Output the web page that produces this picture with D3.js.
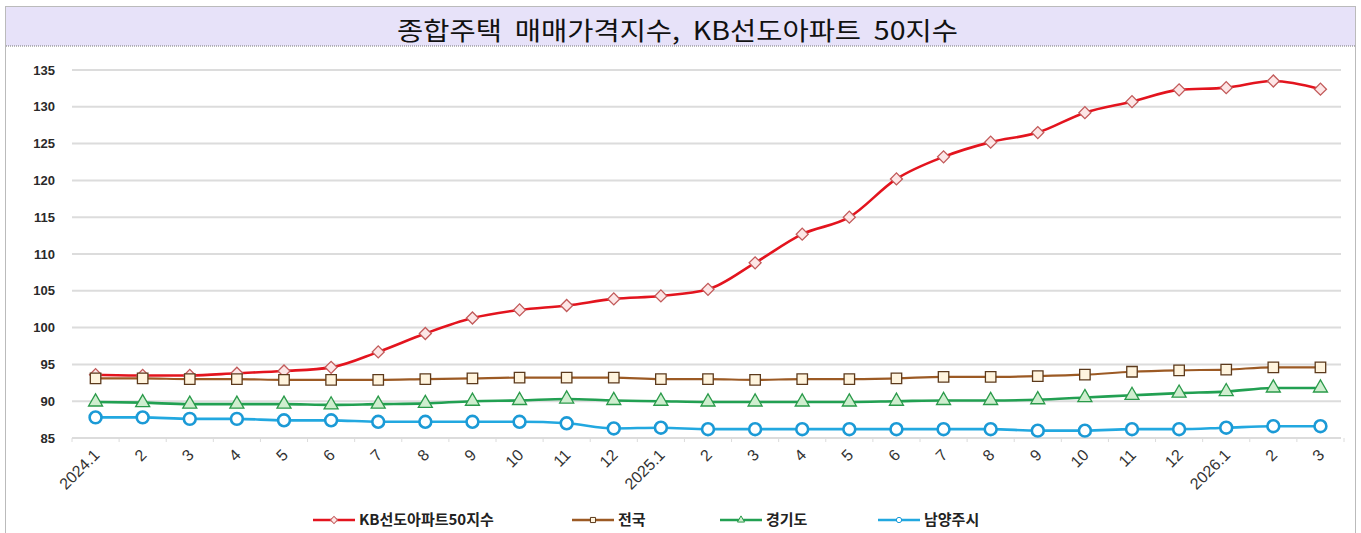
<!DOCTYPE html>
<meta charset="utf-8">
<style>
  body {
    margin: 0;
    background: #fff;
  }

  #chart {
    width: 1361px;
    height: 533px;
  }

  .grid line {
    stroke: #dcdcdc;
    stroke-width: 2px;
  }

  .ylab text {
    font-family: "Liberation Sans", Arial, sans-serif;
    font-weight: bold;
    font-size: 13px;
    fill: #2a2a2a;
  }

  .xlab text {
    font-family: "Liberation Sans", Arial, sans-serif;
    font-size: 16px;
    fill: #333;
  }

  .legend text {
    font-family: "Noto Sans CJK KR", sans-serif;
    font-weight: bold;
    font-size: 15px;
    fill: #222;
  }
</style>

<body>
  <div id="chart"></div>

  <script src="https://d3js.org/d3.v7.js"></script>
  <script>
    const months = ["2024.1", "2", "3", "4", "5", "6", "7", "8", "9", "10", "11", "12",
      "2025.1", "2", "3", "4", "5", "6", "7", "8", "9", "10", "11", "12",
      "2026.1", "2", "3"];

    const yTicks = [85, 90, 95, 100, 105, 110, 115, 120, 125, 130, 135];

    // values
    const kb50 = [93.6, 93.5, 93.5, 93.8, 94.1, 94.6, 96.7, 99.2, 101.3, 102.4, 103.0, 103.9,
      104.3, 105.2, 108.8, 112.7, 115.0, 120.2, 123.2, 125.2, 126.5, 129.2, 130.7, 132.3,
      132.6, 133.5, 132.4];
    const national = [93.1, 93.1, 93.0, 93.0, 92.9, 92.9, 92.9, 93.0, 93.1, 93.2, 93.2, 93.2,
      93.0, 93.0, 92.9, 93.0, 93.0, 93.1, 93.3, 93.3, 93.4, 93.6, 94.0, 94.2,
      94.3, 94.6, 94.6];
    const gyeonggi = [89.9, 89.8, 89.6, 89.6, 89.6, 89.5, 89.6, 89.7, 90.0, 90.1, 90.3, 90.1,
      90.0, 89.9, 89.9, 89.9, 89.9, 90.0, 90.1, 90.1, 90.2, 90.5, 90.8, 91.1,
      91.3, 91.8, 91.8];
    const namyangju = [87.8, 87.8, 87.6, 87.6, 87.4, 87.4, 87.2, 87.2, 87.2, 87.2, 87.0, 86.3,
      86.4, 86.2, 86.2, 86.2, 86.2, 86.2, 86.2, 86.2, 86.0, 86.0, 86.2, 86.2,
      86.4, 86.6, 86.6];

    const seriesNames = ["KB선도아파트50지수", "전국", "경기도", "남양주시"];

    const series = [
      {name: seriesNames[0], values: kb50, line: "#e3141e", width: 2.6, shape: d3.symbolSquare,
        rot: 45, size: 72, fill: "#fde6e6", stroke: "#c25a5a"},
      {name: seriesNames[1], values: national, line: "#9c5a24", width: 2.2, shape: d3.symbolSquare,
        rot: 0, size: 110, fill: "#fff4de", stroke: "#5c3a1c"},
      {name: seriesNames[2], values: gyeonggi, line: "#22a052", width: 2.6, shape: d3.symbolTriangle,
        rot: 0, size: 85, fill: "#cfeecf", stroke: "#2a9a4a"},
      {name: seriesNames[3], values: namyangju, line: "#22a8e0", width: 2.6, shape: d3.symbolCircle,
        rot: 0, size: 110, fill: "#ffffff", stroke: "#1b9ad6"}
    ];

    const W = 1361, H = 533;
    const svg = d3.select("#chart").append("svg")
      .attr("width", W)
      .attr("height", H);

    // title band and dotted frame
    svg.append("rect")
      .attr("x", 6).attr("y", 7).attr("width", 1349).attr("height", 39)
      .attr("fill", "#e7e2f9");
    svg.append("line")
      .attr("x1", 6).attr("x2", 1355).attr("y1", 46).attr("y2", 46)
      .attr("stroke", "#777").attr("stroke-dasharray", "1,1");
    svg.append("rect")
      .attr("x", 5.5).attr("y", 6.5).attr("width", 1350).attr("height", 540)
      .attr("fill", "none")
      .attr("stroke", "#777").attr("stroke-dasharray", "1,1");

    svg.append("text")
      .attr("x", 677.5).attr("y", 40)
      .attr("text-anchor", "middle")
      .attr("textLength", 561)
      .attr("lengthAdjust", "spacingAndGlyphs")
      .style("font-family", "'Noto Sans CJK KR', sans-serif")
      .style("font-size", "25px")
      .style("white-space", "pre")
      .attr("fill", "#111")
      .text("종합주택  매매가격지수,  KB선도아파트  50지수");

    const x = d3.scaleBand()
      .domain(d3.range(months.length))
      .range([72, 1344]);

    const y = d3.scaleLinear()
      .domain([85, 135])
      .range([438, 70]);

    // gridlines
    svg.append("g").attr("class", "grid")
      .selectAll("line")
      .data(yTicks)
      .join("line")
      .attr("x1", 72).attr("x2", 1341)
      .attr("y1", d => y(d)).attr("y2", d => y(d));

    // y labels
    svg.append("g").attr("class", "ylab")
      .selectAll("text")
      .data(yTicks)
      .join("text")
      .attr("x", 55)
      .attr("y", d => y(d))
      .attr("dy", "0.35em")
      .attr("text-anchor", "end")
      .text(d => d);

    // small ticks at the band edges
    svg.append("g")
      .selectAll("line")
      .data(d3.range(months.length + 1))
      .join("line")
      .attr("x1", i => x.step() * i + x.range()[0])
      .attr("x2", i => x.step() * i + x.range()[0])
      .attr("y1", y(85)).attr("y2", y(85) + 4)
      .attr("stroke", "#dcdcdc").attr("stroke-width", 1);

    // x labels
    svg.append("g").attr("class", "xlab")
      .selectAll("text")
      .data(months)
      .join("text")
      .attr("text-anchor", "end")
      .attr("dy", "0.35em")
      .attr("transform", (d, i) => `translate(${x(i) + x.bandwidth() / 2 + 1},${y(85) + 14}) rotate(-45)`)
      .text(d => d);

    const line = d3.line()
      .x((d, i) => x(i) + x.bandwidth() / 2)
      .y(d => y(d))
      .curve(d3.curveMonotoneX);

    series.forEach(s => {
      const g = svg.append("g");
      g.append("path")
        .datum(s.values)
        .attr("d", line)
        .attr("fill", "none")
        .attr("stroke", s.line)
        .attr("stroke-width", s.width);

      g.selectAll("path.mk")
        .data(s.values)
        .join("path")
        .attr("class", "mk")
        .attr("d", d3.symbol().type(s.shape).size(s.size))
        .attr("transform", (d, i) => `translate(${x(i) + x.bandwidth() / 2},${y(d)}) rotate(${s.rot})`)
        .attr("fill", s.fill)
        .attr("stroke", s.stroke)
        .attr("stroke-width", s.shape === d3.symbolCircle ? 2.6 : 1.3);
    });

    // legend
    const legendX = [313, 572, 720, 878];
    const legend = svg.append("g").attr("class", "legend");
    series.forEach((s, k) => {
      const lg = legend.append("g").attr("transform", `translate(${legendX[k]},520)`);
      lg.append("line")
        .attr("x1", 0).attr("x2", 42)
        .attr("stroke", s.line).attr("stroke-width", 2.4);
      lg.append("path")
        .attr("d", d3.symbol().type(s.shape).size(s.shape === d3.symbolSquare ? 26 : 22))
        .attr("transform", `translate(21,0) rotate(${s.rot})`)
        .attr("fill", s.fill)
        .attr("stroke", s.stroke)
        .attr("stroke-width", 1);
      lg.append("text")
        .attr("x", 46)
        .attr("dy", "0.36em")
        .text(s.name);
    });
  </script>
</body>
</html>
